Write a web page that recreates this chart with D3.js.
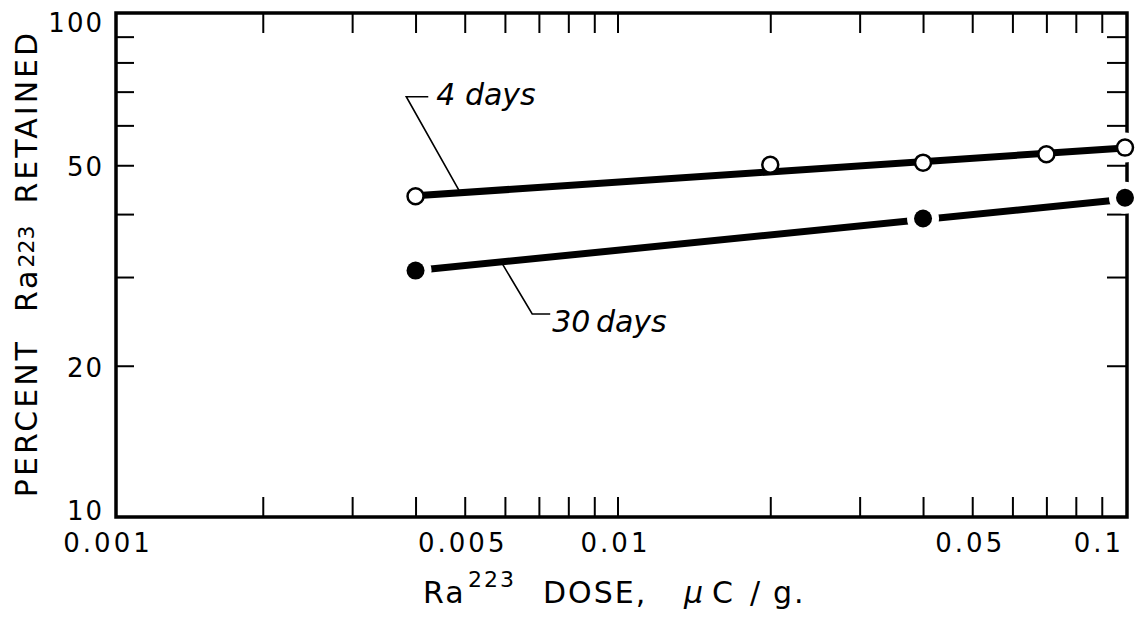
<!DOCTYPE html>
<html><head><meta charset="utf-8">
<script src="https://cdn.jsdelivr.net/npm/d3@7"></script>
<style>
html,body{margin:0;padding:0;background:#fff;}
svg{display:block;font-family:"DejaVu Sans",sans-serif;}
</style></head><body>
<svg id="chart" width="1139" height="625"></svg>
<script>
// Retention of Ra223 versus injected dose (log-log)
const dose4 = [0.004, 0.02, 0.04, 0.07, 0.1];
const retained4 = [43.4, 50.1, 50.6, 52.6, 54.2];
const dose30 = [0.004, 0.04, 0.1];
const retained30 = [30.9, 39.2, 43.1];
const fitDose = [0.004, 0.1];
const fit4 = [43.5, 54.1];
const fit30 = [30.9, 42.8];
const xMinorTicks = [0.002,0.003,0.004,0.005,0.006,0.007,0.008,0.009,0.01,
                     0.02,0.03,0.04,0.05,0.06,0.07,0.08,0.09];
const xLabelValues = [0.001, 0.005, 0.01, 0.05, 0.1];
const xTickLabels = ["0.001", "0.005", "0.01", "0.05", "0.1"];
const yTicks = [20, 30, 40, 50, 60, 70, 80, 90];
const yLabelValues = [10, 20, 50, 100];
const yTickLabels = ["10", "20", "50", "100"];
const seriesNames = ["4 days", "30 days"];

const svg = d3.select("#chart");
const frame = {left: 116, right: 1127, top: 13, bottom: 517};
const x = d3.scaleLog().domain([0.001, 0.1]).range([110, 1125]);
const y = d3.scaleLog().domain([10, 100]).range([517.4, 13.6]);

// inward tick marks on all four sides
function tickAxis(axis, tx, ty) {
  const g = svg.append("g").attr("transform", `translate(${tx},${ty})`).call(axis);
  g.select(".domain").remove();
  g.selectAll(".tick line").attr("stroke", "#000").attr("stroke-width", 2);
  g.selectAll(".tick text").remove();
  return g;
}
tickAxis(d3.axisBottom(x).tickValues(xMinorTicks).tickSize(-20), 0, frame.bottom);
tickAxis(d3.axisTop(x).tickValues(xMinorTicks).tickSize(-20), 0, frame.top);
tickAxis(d3.axisLeft(y).tickValues(yTicks).tickSize(-18), frame.left, 0);
tickAxis(d3.axisRight(y).tickValues(yTicks).tickSize(-20), frame.right, 0);

// plot frame
svg.append("rect")
  .attr("x", frame.left).attr("y", frame.top)
  .attr("width", frame.right - frame.left).attr("height", frame.bottom - frame.top)
  .attr("fill", "none").attr("stroke", "#000").attr("stroke-width", 3.5);

// x tick labels
svg.append("g").selectAll("text")
  .data(d3.zip(xLabelValues, xTickLabels))
  .join("text")
  .attr("x", (d, i) => i === xLabelValues.length - 1 ? frame.right - 3 : x(d[0]) - 2)
  .attr("y", 552)
  .attr("text-anchor", (d, i) => i === xLabelValues.length - 1 ? "end" : "middle")
  .attr("font-size", 26).attr("letter-spacing", 3)
  .text(d => d[1]);

// y tick labels, kept inside the frame height
svg.append("g").selectAll("text")
  .data(d3.zip(yLabelValues, yTickLabels))
  .join("text")
  .attr("x", 104)
  .attr("y", d => Math.max(frame.top + 19, Math.min(frame.bottom + 3, y(d[0]) + 11)))
  .attr("text-anchor", "end")
  .attr("font-size", 26).attr("letter-spacing", 2)
  .text(d => d[1]);

// white halos that break the frame around the open circles
svg.append("g").selectAll("circle")
  .data(d3.zip(dose4, retained4))
  .join("circle")
  .attr("cx", d => x(d[0])).attr("cy", d => y(d[1])).attr("r", 15)
  .attr("fill", "#fff");

const line = d3.line().x(d => x(d[0])).y(d => y(d[1]));

// 4 days: fitted line with open circles
svg.append("path")
  .datum(d3.zip(fitDose, fit4))
  .attr("d", line).attr("fill", "none")
  .attr("stroke", "#000").attr("stroke-width", 7);
svg.append("g").selectAll("circle")
  .data(d3.zip(dose4, retained4))
  .join("circle")
  .attr("cx", d => x(d[0])).attr("cy", d => y(d[1])).attr("r", 8)
  .attr("fill", "#fff").attr("stroke", "#000").attr("stroke-width", 2.5);

// 30 days: fitted line broken around solid dots
svg.append("path")
  .datum(d3.zip(fitDose, fit30))
  .attr("d", line).attr("fill", "none")
  .attr("stroke", "#000").attr("stroke-width", 7);
svg.append("g").selectAll("circle")
  .data(d3.zip(dose30, retained30))
  .join("circle")
  .attr("cx", d => x(d[0])).attr("cy", d => y(d[1])).attr("r", 16)
  .attr("fill", "#fff");
svg.append("g").selectAll("circle")
  .data(d3.zip(dose30, retained30))
  .join("circle")
  .attr("cx", d => x(d[0])).attr("cy", d => y(d[1])).attr("r", 9)
  .attr("fill", "#000");

// leader annotations
function fitAt(vals, d) {
  const t = (Math.log(d) - Math.log(fitDose[0])) / (Math.log(fitDose[1]) - Math.log(fitDose[0]));
  return Math.exp(Math.log(vals[0]) + t * (Math.log(vals[1]) - Math.log(vals[0])));
}
const notes = [
  {name: seriesNames[0], fit: fit4, at: 0.0049, elbow: [-54, -96], run: 22, text: [8, 8]},
  {name: seriesNames[1], fit: fit30, at: 0.0059, elbow: [31, 52], run: 18, text: [2, 18]}
];
notes.forEach(n => {
  const ax = x(n.at), ay = y(fitAt(n.fit, n.at));
  const ex = ax + n.elbow[0], ey = ay + n.elbow[1];
  svg.append("path")
    .attr("d", `M${ax},${ay}L${ex},${ey}L${ex + n.run},${ey}`)
    .attr("fill", "none").attr("stroke", "#000").attr("stroke-width", 1.6);
  svg.append("text")
    .attr("x", ex + n.run + n.text[0]).attr("y", ey + n.text[1])
    .attr("font-size", 30).attr("font-style", "italic")
    .attr("word-spacing", n.name === "30 days" ? -4 : 0)
    .text(n.name);
});

// axis titles
const xt = svg.append("text").attr("y", 603)
  .attr("font-size", 30).attr("letter-spacing", 2);
xt.append("tspan").attr("x", 423).text("Ra");
xt.append("tspan").attr("x", 468).attr("font-size", 22).attr("dy", -16).text("223");
xt.append("tspan").attr("x", 543).attr("dy", 16).text("DOSE,");
xt.append("tspan").attr("x", 684).attr("font-style", "italic").text("\u03bc");
xt.append("tspan").attr("x", 712).text("C");
xt.append("tspan").attr("x", 750).text("/");
xt.append("tspan").attr("x", 773).text("g.");

const yt = svg.append("text")
  .attr("transform", "translate(37,263.5) rotate(-90)")
  .attr("text-anchor", "middle")
  .attr("font-size", 30).attr("letter-spacing", 3);
yt.append("tspan").text("PERCENT");
yt.append("tspan").attr("dx", 27).text("Ra");
yt.append("tspan").attr("font-size", 22).attr("letter-spacing", 0).attr("dy", -3).text("223");
yt.append("tspan").attr("dx", 22).attr("dy", 3).text("RETAINED");
</script>
</body></html>
